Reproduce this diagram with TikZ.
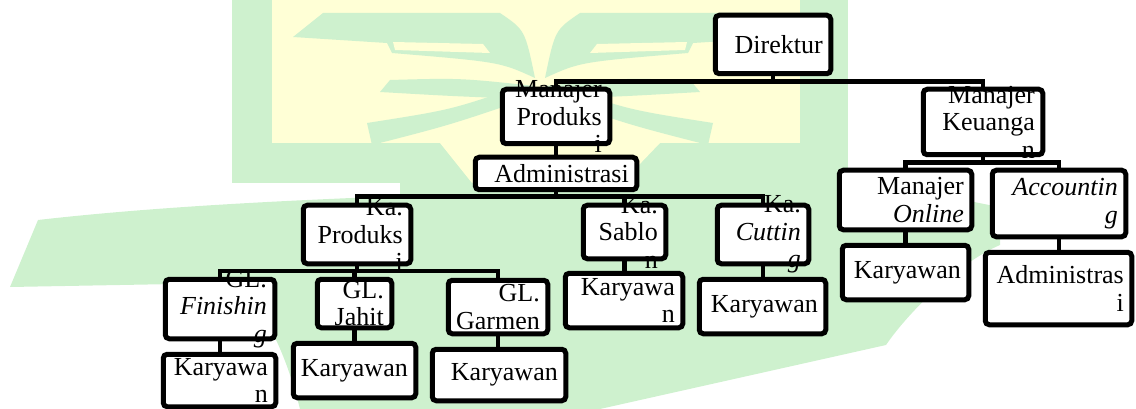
\documentclass[tikz,border=0pt]{standalone}
\usepackage{fontspec}
\setmainfont{Liberation Serif}
\usetikzlibrary{positioning,calc}
\definecolor{wmgreen}{RGB}{206,241,206}
\definecolor{wmyellow}{RGB}{255,255,214}

\begin{document}
\begin{tikzpicture}[
    x=1pt, y=-1pt,
    box/.style 2 args={rectangle, fill=white, inner sep=0pt, outer sep=0pt, minimum width=#1pt, minimum height=#2pt},
    txt/.style={anchor=east, align=right, inner sep=0pt, xshift=-7.75pt, font=\fontsize{26}{27.5}\selectfont},
    lbl/.style={label={[txt]east:{#1}}},
    rim/.style={line width=5pt, rounded corners=4pt},
    link/.style={line width=4.5pt}
]
    \useasboundingbox (0,0) rectangle (1136,409);

    % watermark in the background
    \fill[wmgreen] (232,0) rectangle (848,183);
    \fill[wmyellow] (272,0) rectangle (800,143);
    \fill[wmyellow] (440,143) -- (660,143) -- (540,268) -- cycle;
    \foreach \s in {1,-1} {
        \begin{scope}[shift={(540,0)}, xscale=\s]
            \fill[wmgreen] (-247,37) -- (-217,13) -- (-40,13) .. controls (-15,30) .. (-5,78)
                .. controls (-40,62) .. (-148,53) -- (-153,43) -- cycle;
            \fill[wmyellow] (-147,42) -- (-57,44) -- (-50,53) -- (-145,50) -- cycle;
            \fill[wmgreen] (-160,92) -- (-150,80) .. controls (-80,78) .. (-5,86)
                -- (-40,98) .. controls (-90,96) .. cycle;
            \fill[wmgreen] (-173,123) -- (-168,145) .. controls (-90,125) .. (-5,96)
                -- (-25,88) .. controls (-90,110) .. cycle;
        \end{scope}
    }
    \fill[wmgreen] (10,287) -- (38,220) .. controls (160,206) and (300,200) .. (400,196)
        -- (400,183) -- (848,183) -- (848,168) .. controls (900,185) and (960,200) .. (1000,207)
        -- (1000,245) .. controls (960,262) and (910,310) .. (886,345)
        -- (600,409) -- (300,409) .. controls (280,330) and (250,290) .. (230,283) -- cycle;

    % boxes
    \node[box={115.5}{58.5}, lbl={Direktur}] (dir) at (773,44.5) {};
    \node[box={107.5}{54.5}, lbl={Manajer\\Produks\\i}] (mprod) at (556,116.5) {};
    \node[box={119.5}{65.5}, lbl={Manajer\\Keuanga\\n}] (mkeu) at (983,122) {};
    \node[box={161.5}{32.5}, lbl={Administrasi}] (adm) at (556,173.5) {};
    \node[box={107.5}{58.5}, lbl={Ka.\\Produks\\i}] (kaprod) at (357,234.5) {};
    \node[box={82.5}{53.5}, lbl={Ka.\\Sablo\\n}] (kasab) at (624.5,232) {};
    \node[box={91.5}{58.5}, lbl={Ka.\\\textit{Cuttin}\\\textit{g}}] (kacut) at (763,234.5) {};
    \node[box={109.5}{59.5}, lbl={GL.\\\textit{Finishin}\\\textit{g}}] (glfin) at (220,309) {};
    \node[box={74.5}{48.5}, lbl={GL.\\Jahit}] (gljah) at (354.5,303.5) {};
    \node[box={99.5}{53.5}, lbl={GL.\\Garmen}] (glgar) at (498,307) {};
    \node[box={112.5}{52.5}, lbl={Karyawa\\n}] (kfin) at (219.5,380.5) {};
    \node[box={122.5}{54.5}, lbl={Karyawan}] (kjah) at (354.5,370.5) {};
    \node[box={133.5}{51.5}, lbl={Karyawan}] (kgar) at (499,375) {};
    \node[box={117.5}{54.5}, lbl={Karyawa\\n}] (ksab) at (624,300.5) {};
    \node[box={126.5}{54.5}, lbl={Karyawan}] (kcut) at (762.5,306.5) {};
    \node[box={132.5}{59.5}, lbl={Manajer\\\textit{Online}}] (monl) at (905.5,200) {};
    \node[box={133.5}{66.5}, lbl={\textit{Accountin}\\\textit{g}}] (acc) at (1059,203.5) {};
    \node[box={126.5}{54.5}, lbl={Karyawan}] (konl) at (905.5,272.5) {};
    \node[box={146.5}{72.5}, lbl={Administras\\i}] (admk) at (1058.5,288.5) {};

    % connectors
    \draw[link] (dir.south) -- ++(0,8) -| (mprod.north);
    \draw[link] (dir.south) -- ++(0,8) -| (mkeu.north);
    \draw[link] (mprod.south) -- (adm.north);
    \draw[link] (adm.south) -- ++(0,7) -| (kaprod.north);
    \draw[link] (adm.south) -- ++(0,7) -| (kasab.north);
    \draw[link] (adm.south) -- ++(0,7) -| (kacut.north);
    \draw[link] (kaprod.south) -- ++(0,7) -| (glfin.north);
    \draw[link] (kaprod.south) -- ++(0,7) -| (gljah.north);
    \draw[link] (kaprod.south) -- ++(0,7) -| (glgar.north);
    \draw[link] (mkeu.south) -- ++(0,8) -| (monl.north);
    \draw[link] (mkeu.south) -- ++(0,8) -| (acc.north);
    \draw[link] (glfin.south) -- (glfin.south |- kfin.north);
    \draw[link] (gljah.south) -- (gljah.south |- kjah.north);
    \draw[link] (glgar.south) -- (glgar.south |- kgar.north);
    \draw[link] (kasab.south) -- (kasab.south |- ksab.north);
    \draw[link] (kacut.south) -- (kacut.south |- kcut.north);
    \draw[link] (monl.south) -- (monl.south |- konl.north);
    \draw[link] (acc.south) -- (acc.south |- admk.north);

    % borders on top of the text
    \foreach \b in {dir,mprod,mkeu,adm,kaprod,kasab,kacut,glfin,gljah,glgar,kfin,kjah,kgar,ksab,kcut,monl,acc,konl,admk}
        \draw[rim] (\b.north west) rectangle (\b.south east);
\end{tikzpicture}
\end{document}
